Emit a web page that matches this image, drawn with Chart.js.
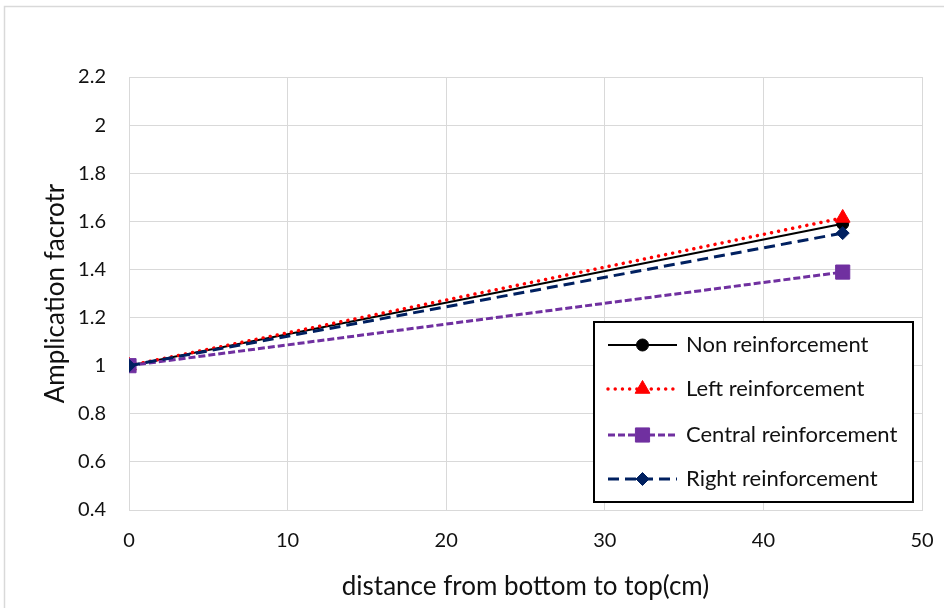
<!DOCTYPE html>
<html>
<head>
<meta charset="utf-8">
<script src="https://cdn.jsdelivr.net/npm/chart.js@4.4.1/dist/chart.umd.min.js"></script>
<style>
  html, body { margin: 0; padding: 0; background: #ffffff; }
  #wrap { width: 944px; height: 608px; position: relative; }
  canvas { display: block; }
</style>
</head>
<body>
<div id="wrap"><canvas id="chart" width="944" height="608"></canvas></div>
<script>
// Measurement positions along the specimen (cm)
const distances = [0, 45];

// Amplification factor for each reinforcement case
const nonReinforcement = [1, 1.59];
const leftReinforcement = [1, 1.614];
const centralReinforcement = [1, 1.389];
const rightReinforcement = [1, 1.551];

const seriesNames = ['Non reinforcement', 'Left reinforcement', 'Central reinforcement', 'Right reinforcement'];

// Axis ticks
const xTickValues = [0, 10, 20, 30, 40, 50];
const yTickValues = [0.4, 0.6, 0.8, 1, 1.2, 1.4, 1.6, 1.8, 2, 2.2];

const xAxisTitle = 'distance from bottom to top(cm)';
const yAxisTitle = 'Amplication facrotr';

const FONT = "Lato, 'Open Sans', 'Liberation Sans', sans-serif";
const GRID = '#d9d9d9';
const TEXT = '#111111';

function toPoints(values) {
  return values.map((v, i) => ({ x: distances[i], y: v }));
}

const seriesStyles = [
  { color: '#000000', width: 2, dash: [], cap: 'butt', point: 'circle', radius: 6 },
  { color: '#ff0000', width: 3.5, dash: [0.01, 7.2], cap: 'round', point: 'triangle', radius: 8.5 },
  { color: '#7030a0', width: 3, dash: [7, 3], cap: 'butt', point: 'rect', radius: 10 },
  { color: '#002060', width: 3, dash: [11, 6], cap: 'butt', point: 'rectRot', radius: 6.5 }
];
const seriesValues = [nonReinforcement, leftReinforcement, centralReinforcement, rightReinforcement];

const datasets = seriesValues.map((vals, i) => {
  const s = seriesStyles[i];
  return {
    label: seriesNames[i],
    data: toPoints(vals),
    borderColor: s.color,
    backgroundColor: s.color,
    borderWidth: s.width,
    borderDash: s.dash,
    borderCapStyle: s.cap,
    pointStyle: s.point,
    pointRadius: s.radius,
    pointHoverRadius: s.radius,
    pointBorderWidth: 1,
    pointBackgroundColor: s.color,
    pointBorderColor: s.color,
    tension: 0,
    fill: false,
    order: seriesValues.length - 1 - i   // later series are drawn on top
  };
});

// Marker drawing for the legend, same geometry as Chart.js point styles
function drawMarker(ctx, style, r, x, y, color) {
  ctx.save();
  ctx.fillStyle = color;
  ctx.strokeStyle = color;
  ctx.lineWidth = 1;
  ctx.setLineDash([]);
  ctx.beginPath();
  if (style === 'circle') {
    ctx.arc(x, y, r, 0, Math.PI * 2);
  } else if (style === 'triangle') {
    ctx.moveTo(x, y - r);
    ctx.lineTo(x + r * Math.sin(Math.PI * 2 / 3), y - r * Math.cos(Math.PI * 2 / 3));
    ctx.lineTo(x + r * Math.sin(Math.PI * 4 / 3), y - r * Math.cos(Math.PI * 4 / 3));
  } else if (style === 'rect') {
    const s = r * Math.SQRT1_2;
    ctx.rect(x - s, y - s, 2 * s, 2 * s);
  } else if (style === 'rectRot') {
    ctx.moveTo(x - r, y);
    ctx.lineTo(x, y - r);
    ctx.lineTo(x + r, y);
    ctx.lineTo(x, y + r);
  }
  ctx.closePath();
  ctx.fill();
  ctx.stroke();
  ctx.restore();
}

const framePlugin = {
  id: 'frame',
  beforeDraw(chart) {
    const ctx = chart.ctx;
    ctx.save();
    ctx.fillStyle = '#ffffff';
    ctx.fillRect(0, 0, chart.width, chart.height);
    ctx.strokeStyle = GRID;
    ctx.lineWidth = 1.5;
    ctx.strokeRect(4.5, 6.5, chart.width + 20, chart.height + 20);
    ctx.restore();
  }
};

const boxLegendPlugin = {
  id: 'boxLegend',
  afterDraw(chart) {
    const ctx = chart.ctx;
    const area = chart.chartArea;
    const w = 319, h = 180;
    const left = area.right - 9 - w;
    const top = area.bottom - 8 - h;
    ctx.save();
    ctx.fillStyle = '#ffffff';
    ctx.fillRect(left, top, w, h);
    ctx.strokeStyle = '#000000';
    ctx.lineWidth = 2;
    ctx.strokeRect(left, top, w, h);
    const rows = [23, 67, 113, 157];
    chart.data.datasets.forEach((ds, i) => {
      const s = seriesStyles[i];
      const y = top + rows[i];
      const x0 = left + 14, x1 = left + 83;
      ctx.save();
      ctx.strokeStyle = s.color;
      ctx.lineWidth = s.width;
      ctx.lineCap = s.cap;
      ctx.setLineDash(s.dash);
      ctx.beginPath();
      ctx.moveTo(x0, y);
      ctx.lineTo(x1, y);
      ctx.stroke();
      ctx.restore();
      drawMarker(ctx, s.point, s.radius, (x0 + x1) / 2, y, s.color);
      ctx.fillStyle = TEXT;
      ctx.font = '22px ' + FONT;
      ctx.textBaseline = 'middle';
      ctx.textAlign = 'left';
      ctx.fillText(ds.label, left + 92, y);
    });
    ctx.restore();
  }
};

new Chart(document.getElementById('chart'), {
  type: 'line',
  data: { datasets },
  options: {
    responsive: false,
    animation: false,
    devicePixelRatio: 1,
    layout: { padding: { left: 0, top: 77, right: 22, bottom: 0 } },
    plugins: {
      legend: { display: false },
      tooltip: { enabled: false }
    },
    scales: {
      x: {
        type: 'linear',
        min: 0,
        max: 50,
        afterBuildTicks(scale) { scale.ticks = xTickValues.map(v => ({ value: v })); },
        afterFit(scale) {
          scale.height = 98;
          scale.paddingLeft = 0;
          scale.paddingRight = 0;
        },
        grid: { color: GRID, lineWidth: 1, drawTicks: false },
        border: { color: GRID, width: 1 },
        ticks: {
          padding: 19,
          color: TEXT,
          font: { family: FONT, size: 20 },
          callback: v => String(v)
        },
        title: {
          display: true,
          text: xAxisTitle,
          color: TEXT,
          font: { family: FONT, size: 26 },
          padding: { top: 0, bottom: 6 }
        }
      },
      y: {
        type: 'linear',
        min: 0.4,
        max: 2.2,
        afterBuildTicks(scale) { scale.ticks = yTickValues.map(v => ({ value: v })); },
        afterFit(scale) {
          scale.width = 129;
          scale.paddingTop = 0;
          scale.paddingBottom = 0;
        },
        grid: { color: GRID, lineWidth: 1, drawTicks: false },
        border: { color: GRID, width: 1 },
        ticks: {
          padding: 23,
          color: TEXT,
          font: { family: FONT, size: 20 },
          callback: v => String(Number(v.toFixed(1)))
        },
        title: {
          display: true,
          text: yAxisTitle,
          color: TEXT,
          font: { family: FONT, size: 26 },
          padding: { top: 40, bottom: 0 }
        }
      }
    }
  },
  plugins: [framePlugin, boxLegendPlugin]
});
</script>
</body>
</html>
